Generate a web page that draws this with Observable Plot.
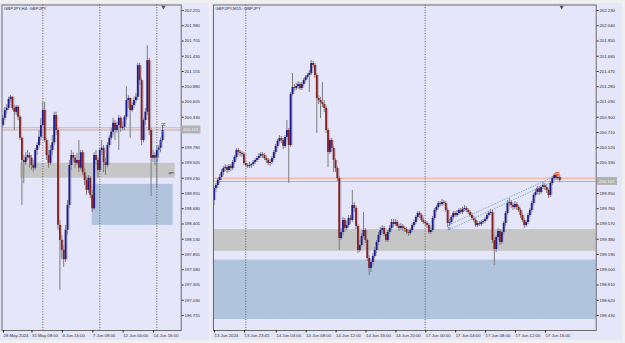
<!DOCTYPE html>
<html><head><meta charset="utf-8">
<script src="https://cdn.jsdelivr.net/npm/d3@7"></script>
<script src="https://cdn.jsdelivr.net/npm/@observablehq/plot@0.6"></script>
<style>
html,body{margin:0;padding:0;background:#f0f0f0;width:625px;height:343px;overflow:hidden;}
#wrap{position:relative;width:625px;height:343px;}
#left{position:absolute;left:0;top:3px;}
#right{position:absolute;left:211px;top:3px;}
svg{display:block;}
</style></head><body><div id="wrap"><div id="left"></div><div id="right"></div></div>
<script>
// ---------- GBPJPY H4 ----------
const h4Open = [200.18,200.31,200.45,200.49,200.65,200.69,200.49,200.42,200.51,200.33,
199.95,199.55,199.51,199.60,199.64,199.59,199.46,199.41,199.73,199.82,
199.97,200.18,200.45,199.91,199.64,199.50,199.73,199.87,200.36,200.09,
198.38,198.11,197.93,197.76,198.29,198.74,199.46,199.64,199.59,199.50,
199.55,199.41,199.69,199.33,199.19,199.01,199.23,198.92,198.68,199.64,
199.55,199.37,199.73,199.77,199.51,199.46,199.82,199.95,200.06,200.22,
200.09,200.18,200.31,200.13,200.15,200.33,200.63,200.67,200.45,200.54,
200.63,200.69,201.26,200.99,199.91,200.27,200.42,201.35,200.09,199.59,
199.64,199.59,199.73,199.77,199.91];
const h4High = [200.36,200.51,200.56,200.69,200.72,200.70,200.54,200.54,200.54,200.36,
199.97,199.64,199.69,199.73,199.69,199.64,199.55,199.77,199.87,200.09,
200.31,200.60,200.60,199.95,199.73,199.82,200.00,200.42,200.42,200.13,
198.47,198.20,198.02,198.38,198.83,199.55,199.73,199.69,199.64,199.68,
199.91,199.73,199.73,199.41,199.26,199.28,199.26,199.01,199.69,199.73,
199.60,199.77,199.91,199.82,199.59,199.87,200.00,200.13,200.31,200.27,
200.24,200.36,200.34,200.24,200.36,200.88,200.72,200.67,200.60,200.69,
200.76,201.30,201.30,201.03,200.31,200.49,201.62,201.39,200.13,199.73,
199.69,199.82,199.82,199.95,200.18];
const h4Low = [200.15,200.27,200.38,200.45,200.60,200.45,200.09,200.36,200.27,199.91,
198.74,199.13,199.46,199.55,199.41,199.37,199.33,199.37,199.64,199.77,
199.91,200.15,199.87,199.55,199.41,199.46,199.64,199.82,200.00,198.29,
197.21,197.76,197.62,197.71,198.20,198.68,199.37,199.51,199.41,199.46,
199.33,199.37,199.28,199.10,198.92,198.95,198.86,198.61,198.65,199.46,
199.23,199.33,199.64,199.33,199.28,199.42,199.77,199.91,200.00,199.91,
200.04,199.73,200.06,200.09,200.09,200.27,200.49,199.95,200.42,200.49,
200.58,200.63,200.90,199.82,199.87,200.18,200.36,200.00,198.90,199.51,
199.46,199.04,199.59,199.69,199.87];
const h4Close = [200.31,200.45,200.49,200.65,200.69,200.49,200.42,200.51,200.33,199.95,
199.55,199.51,199.60,199.64,199.59,199.46,199.41,199.73,199.82,199.97,
200.18,200.45,199.91,199.64,199.50,199.73,199.87,200.36,200.09,198.38,
198.11,197.93,197.76,198.29,198.74,199.46,199.64,199.59,199.50,199.55,
199.41,199.69,199.33,199.19,199.01,199.23,198.92,198.68,199.64,199.55,
199.37,199.73,199.77,199.51,199.46,199.82,199.95,200.06,200.22,200.09,
200.18,200.31,200.13,200.15,200.33,200.63,200.67,200.45,200.54,200.63,
200.69,201.26,200.99,199.91,200.27,200.42,201.35,200.09,199.59,199.64,
199.59,199.73,199.77,199.91,200.09];
// 200.055 sits under the bid-price box in the reference, so it is not shown
const h4YTicks = [202.255,201.980,201.705,201.430,201.155,200.880,200.605,200.330,199.780,199.505,199.230,198.955,198.680,198.405,198.130,197.855,197.580,197.305,197.030,196.755];
const h4XTickBars = [0,15,31,47,63,79];
const h4XTickLabels = ["28 May 2024","31 May 08:00","4 Jun 16:00","7 Jun 08:00","12 Jun 00:00","14 Jun 16:00"];
const h4Separators = [21,51,81];

// ---------- GBPJPY M15 ----------
const m15Open = [199.863,200.012,200.050,200.112,200.149,200.212,200.261,200.274,200.237,200.286,
200.261,200.336,200.399,200.486,200.461,200.448,200.436,200.324,200.299,200.286,
200.299,200.311,200.336,200.361,200.386,200.411,200.436,200.424,200.386,200.361,
200.324,200.336,200.386,200.461,200.536,200.598,200.635,200.610,200.536,200.648,
200.735,200.548,201.183,201.271,201.258,201.283,201.308,201.258,201.308,201.358,
201.395,201.420,201.445,201.570,201.545,201.420,201.134,201.109,201.084,201.059,
201.009,200.735,200.461,200.610,200.511,200.361,200.261,200.137,199.389,199.464,
199.614,199.514,199.551,199.639,199.614,199.800,199.763,199.539,199.240,199.302,
199.414,199.489,199.364,199.140,199.016,199.090,199.165,199.240,199.340,199.427,
199.489,199.514,199.439,199.364,199.464,199.514,199.589,199.564,199.589,199.539,
199.514,199.539,199.514,199.501,199.464,199.452,199.489,199.551,199.589,199.651,
199.701,199.676,199.614,199.589,199.576,199.551,199.464,199.489,199.639,199.738,
199.776,199.825,199.813,199.838,199.825,199.738,199.576,199.589,199.651,199.701,
199.676,199.701,199.738,199.713,199.751,199.763,199.738,199.713,199.676,199.639,
199.614,199.551,199.576,199.564,199.589,199.601,199.626,199.676,199.701,199.713,
199.364,199.252,199.402,199.477,199.340,199.464,199.576,199.701,199.825,199.838,
199.800,199.776,199.813,199.776,199.738,199.676,199.614,199.551,199.589,199.676,
199.738,199.825,199.925,199.962,200.012,199.962,200.025,200.050,200.025,199.987,
199.925,200.075,200.137,200.174,200.137,200.149];
const m15High = [200.037,200.075,200.137,200.187,200.249,200.286,200.311,200.299,200.311,200.311,
200.361,200.424,200.511,200.511,200.486,200.473,200.461,200.349,200.324,200.336,
200.324,200.361,200.386,200.411,200.448,200.461,200.461,200.448,200.411,200.386,
200.374,200.411,200.486,200.561,200.623,200.673,200.660,200.635,200.673,200.860,
200.760,201.208,201.445,201.308,201.321,201.345,201.333,201.333,201.383,201.420,
201.445,201.483,201.607,201.595,201.570,201.445,201.171,201.146,201.333,201.109,
201.034,200.760,200.635,200.635,200.536,200.386,200.286,200.162,199.514,199.651,
199.639,199.601,199.676,199.676,199.987,199.838,199.788,199.564,199.364,199.452,
199.713,199.514,199.389,199.178,199.128,199.203,199.277,199.364,199.464,199.526,
199.551,199.539,199.464,199.489,199.551,199.626,199.626,199.626,199.614,199.564,
199.576,199.564,199.539,199.526,199.489,199.514,199.576,199.614,199.676,199.726,
199.726,199.701,199.639,199.614,199.601,199.576,199.526,199.663,199.763,199.800,
199.850,199.850,199.875,199.863,199.850,199.763,199.626,199.676,199.726,199.726,
199.738,199.763,199.763,199.776,199.800,199.788,199.763,199.738,199.701,199.663,
199.639,199.601,199.601,199.614,199.626,199.651,199.701,199.726,199.751,199.738,
199.402,199.427,199.514,199.501,199.489,199.601,199.726,199.863,199.888,199.863,
199.825,199.850,199.838,199.800,199.763,199.701,199.639,199.614,199.701,199.763,
199.850,199.950,200.000,200.037,200.037,200.050,200.087,200.075,200.050,200.012,
200.100,200.162,200.199,200.199,200.174,200.174];
const m15Low = [199.800,199.962,200.012,200.075,200.112,200.174,200.224,200.199,200.212,200.224,
200.237,200.311,200.374,200.424,200.411,200.399,200.299,200.274,200.261,200.261,
200.261,200.286,200.311,200.336,200.361,200.386,200.386,200.361,200.324,200.299,
200.286,200.311,200.361,200.436,200.511,200.573,200.573,200.498,200.511,200.610,
200.075,200.523,201.159,201.221,201.233,201.246,201.233,201.233,201.283,201.333,
201.370,201.208,201.420,201.507,201.383,200.698,201.059,200.884,201.021,200.959,
200.698,200.274,200.436,200.461,200.212,200.212,200.100,199.240,199.364,199.427,
199.464,199.489,199.514,199.564,199.589,199.713,199.501,199.203,199.215,199.277,
199.389,199.327,199.103,198.928,198.966,199.053,199.140,199.203,199.302,199.389,
199.452,199.414,199.340,199.340,199.439,199.489,199.526,199.539,199.514,199.477,
199.489,199.477,199.464,199.439,199.414,199.427,199.464,199.526,199.564,199.626,
199.639,199.589,199.564,199.539,199.514,199.439,199.439,199.464,199.614,199.713,
199.751,199.788,199.788,199.800,199.713,199.526,199.539,199.564,199.626,199.651,
199.651,199.676,199.688,199.688,199.726,199.713,199.688,199.651,199.614,199.589,
199.526,199.526,199.539,199.539,199.564,199.576,199.601,199.651,199.676,199.327,
199.053,199.215,199.364,199.302,199.315,199.427,199.539,199.676,199.788,199.763,
199.738,199.751,199.738,199.713,199.639,199.589,199.514,199.526,199.564,199.651,
199.713,199.800,199.900,199.938,199.925,199.938,200.000,199.987,199.950,199.888,
199.900,200.050,200.112,200.112,200.112,200.087];
const m15Close = [200.012,200.050,200.112,200.149,200.212,200.261,200.274,200.237,200.286,200.261,
200.336,200.399,200.486,200.461,200.448,200.436,200.324,200.299,200.286,200.299,
200.311,200.336,200.361,200.386,200.411,200.436,200.424,200.386,200.361,200.324,
200.336,200.386,200.461,200.536,200.598,200.635,200.610,200.536,200.648,200.735,
200.548,201.183,201.271,201.258,201.283,201.308,201.258,201.308,201.358,201.395,
201.420,201.445,201.570,201.545,201.420,201.134,201.109,201.084,201.059,201.009,
200.735,200.461,200.610,200.511,200.361,200.261,200.137,199.389,199.464,199.614,
199.514,199.551,199.639,199.614,199.800,199.763,199.539,199.240,199.302,199.414,
199.489,199.364,199.140,199.016,199.090,199.165,199.240,199.340,199.427,199.489,
199.514,199.439,199.364,199.464,199.514,199.589,199.564,199.589,199.539,199.514,
199.539,199.514,199.501,199.464,199.452,199.489,199.551,199.589,199.651,199.701,
199.676,199.614,199.589,199.576,199.551,199.464,199.489,199.639,199.738,199.776,
199.825,199.813,199.838,199.825,199.738,199.576,199.589,199.651,199.701,199.676,
199.701,199.738,199.713,199.751,199.763,199.738,199.713,199.676,199.639,199.614,
199.551,199.576,199.564,199.589,199.601,199.626,199.676,199.701,199.713,199.364,
199.252,199.402,199.477,199.340,199.464,199.576,199.701,199.825,199.838,199.800,
199.776,199.813,199.776,199.738,199.676,199.614,199.551,199.589,199.676,199.738,
199.825,199.925,199.962,200.012,199.962,200.025,200.050,200.025,199.987,199.925,
200.075,200.137,200.174,200.137,200.149,200.112];
// 200.140 sits under the bid-price box in the reference, so it is not shown
const m15YTicks = [202.230,202.040,201.850,201.660,201.470,201.280,201.090,200.900,200.710,200.520,200.330,199.950,199.760,199.570,199.380,199.190,199.000,198.810,198.620,198.430];
const m15XTickBars = [0,16,33,49,65,81,97,113,129,145,161,177];
const m15XTickLabels = ["13 Jun 2024","13 Jun 23:45","14 Jun 04:00","14 Jun 08:00","14 Jun 12:00","14 Jun 16:00","14 Jun 20:00","17 Jun 00:00","17 Jun 04:00","17 Jun 08:00","17 Jun 12:00","17 Jun 16:00"];
const m15Separators = [17,113];

// shared levels
const alertLevel = 200.14;
const bidLevel = 200.10;
const bidLabel = "200.101";
const qmZone = {top: 199.50, bottom: 199.23};
const demandZone = {top: 199.12, bottom: 198.38};

const BG = "#e6e6fa", FRAME = "#6a6a6a", TXT = "#2a2a2a";
const BULL = "#1c1c94", BEAR = "#8e1f1f", WICK = "#7c7c7c", GHOST = "#a4a4b4";
const FONT = "Liberation Sans, Arial, sans-serif";

function rows(o,h,l,c){ return c.map((v,i)=>({i, o:o[i], h:h[i], l:l[i], c:v})); }

function panel(cfg){
  const data = rows(cfg.open, cfg.high, cfg.low, cfg.close);
  const lab = new Map(cfg.xBars.map((b,j)=>[b, cfg.xLabels[j]]));
  const boxH = cfg.boxHalf;
  return Plot.plot({
    width: cfg.width, height: 337,
    marginLeft: cfg.ml, marginRight: cfg.mr, marginTop: 1.5, marginBottom: 10,
    x: {type: "linear", domain: cfg.xDomain},
    y: {domain: cfg.yDomain},
    color: {type: "identity"},
    style: {background: BG, fontFamily: FONT, overflow: "visible"},
    marks: [
      Plot.rect(cfg.zones, {x1: "x1", x2: "x2", y1: "y1", y2: "y2", fill: "fill", clip: true}),
      Plot.ruleY([bidLevel], {stroke: "#b4b4b4", strokeWidth: 1, clip: true}),
      Plot.ruleY([alertLevel], {stroke: "#f2a888", strokeWidth: 1, clip: true}),
      Plot.ruleX(cfg.separators, {stroke: "#3a3a3a", strokeWidth: 0.8, strokeDasharray: "1,1.6"}),
      Plot.ruleX(data, {x: "i", y1: "l", y2: "h", stroke: WICK, strokeWidth: 1}),
      Plot.ruleX(data, {x: "i", y1: "o", y2: "c", stroke: GHOST, strokeWidth: 3.2, strokeOpacity: 0.6, dx: 0.6}),
      Plot.ruleX(data, {x: "i", y1: "o", y2: "c", stroke: d => d.c >= d.o ? BULL : BEAR, strokeWidth: 1.8}),
      Plot.link(cfg.trend, {x1: "x1", y1: "y1", x2: "x2", y2: "y2", stroke: "#6a9ad6", strokeWidth: 0.9, strokeDasharray: "1.4,1.2"}),
      Plot.text(cfg.marks, {x: "x", y: "y", text: "t", fill: "f", fontSize: 5.5, fontWeight: "bold"}),
      Plot.text(cfg.zoneLabels, {x: "x", y: "y", text: "t", fill: "#444", fontSize: 4.3}),
      Plot.dot([cfg.lastBar], {x: d => d, frameAnchor: "top", dy: 2, symbol: "triangle", rotate: 180, r: 1.6, fill: "#555", stroke: null}),
      Plot.frame({stroke: FRAME, strokeWidth: 1}),
      Plot.axisY(cfg.yTicks, {anchor: "right", tickSize: 2, tickPadding: 1.2, fontSize: 4.3, color: TXT, tickFormat: d => d.toFixed(3)}),
      Plot.axisX(cfg.xBars, {anchor: "bottom", tickSize: 2.5, tickPadding: 0.8, fontSize: 4.3, color: TXT, textAnchor: "start", dx: 0.6, tickFormat: d => lab.get(d)}),
      Plot.rect([bidLevel], {x1: cfg.boxX[0], x2: cfg.boxX[1], y1: d => d - boxH, y2: d => d + boxH, fill: "#b2b2b2"}),
      Plot.text([bidLevel], {x: cfg.boxX[0], y: d => d, text: () => bidLabel, fill: "#f4f4f4", fontSize: 4.3, textAnchor: "start", dx: 1.5}),
      Plot.text([cfg.title], {frameAnchor: "top-left", text: d => d, dx: 2, dy: 2, fontSize: 4.3, fill: TXT})
    ]
  });
}

const left = panel({
  width: 209, ml: 1.5, mr: 28.3,
  xDomain: [-0.47, 93.84], yDomain: [196.484, 202.354],
  open: h4Open, high: h4High, low: h4Low, close: h4Close,
  yTicks: h4YTicks, xBars: h4XTickBars, xLabels: h4XTickLabels, separators: h4Separators,
  zones: [
    {x1: 9.3, x2: 90.7, y1: qmZone.bottom, y2: qmZone.top, fill: "#c6c6c6"},
    {x1: 47, x2: 89.6, y1: demandZone.bottom, y2: demandZone.top, fill: "#b0c4de"}
  ],
  zoneLabels: [{x: 88.7, y: 199.33, t: "qm"}],
  trend: [{x1: 81, y1: 199.55, x2: 84, y2: 200.09}],
  marks: [{x: 81, y: 199.55, t: "≡", f: "#3a78d0"}, {x: 84.5, y: 200.19, t: "≑", f: "#e8603c"}],
  lastBar: 84.5,
  boxX: [94.1, 104.2], boxHalf: 0.072,
  title: "GBPJPY,H4: GBPJPY"
});
const right = panel({
  width: 411, ml: 2, mr: 26.3,
  xDomain: [-0.27, 204.5], yDomain: [198.243, 202.2985],
  open: m15Open, high: m15High, low: m15Low, close: m15Close,
  yTicks: m15YTicks, xBars: m15XTickBars, xLabels: m15XTickLabels, separators: m15Separators,
  zones: [
    {x1: -1, x2: 206, y1: qmZone.bottom, y2: qmZone.top, fill: "#c6c6c6"},
    {x1: -1, x2: 206, y1: demandZone.bottom, y2: demandZone.top, fill: "#b0c4de"}
  ],
  zoneLabels: [],
  trend: [{x1: 125, y1: 199.551, x2: 181, y2: 200.149}, {x1: 126, y1: 199.501, x2: 180, y2: 200.087}],
  marks: [{x: 125.6, y: 199.52, t: "≡", f: "#3a78d0"}, {x: 183.6, y: 200.19, t: "≑", f: "#e8603c"}],
  lastBar: 186,
  boxX: [205.2, 215.9], boxHalf: 0.05,
  title: "GBPJPY,M15: GBPJPY"
});
document.getElementById("left").appendChild(left);
document.getElementById("right").appendChild(right);
</script></body></html>
